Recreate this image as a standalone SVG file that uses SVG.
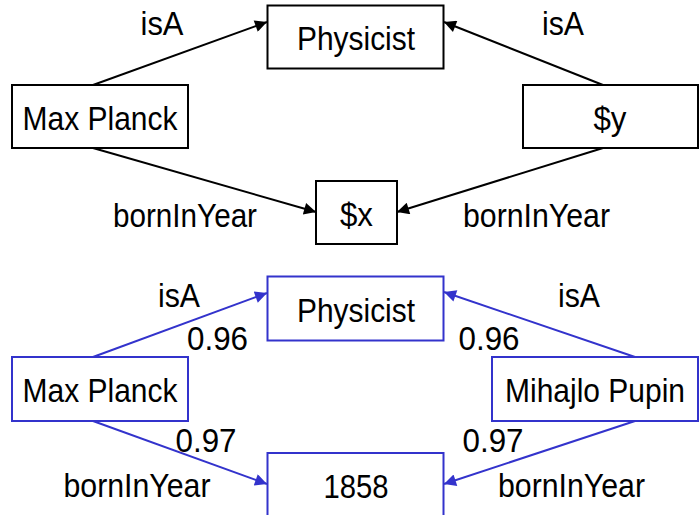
<svg xmlns="http://www.w3.org/2000/svg" width="700" height="515" viewBox="0 0 700 515">
<style>
  text { font-family: "Liberation Sans", Arial, sans-serif; font-size: 34px; fill: #000; text-anchor: middle; }
  .nb { fill: #fff; stroke: #000; stroke-width: 2; }
  .nu { fill: #fff; stroke: #3333cc; stroke-width: 2; }
  .eb { stroke: #000; stroke-width: 2; fill: none; marker-end: url(#ab); }
  .eu { stroke: #3333cc; stroke-width: 2; fill: none; marker-end: url(#au); }
</style>
<defs>
  <marker id="ab" viewBox="0 0 10 10" refX="10" refY="5" markerWidth="16" markerHeight="12" markerUnits="userSpaceOnUse" orient="auto">
    <path d="M0,0 L10,5 L0,10 z" fill="#000"/>
  </marker>
  <marker id="au" viewBox="0 0 10 10" refX="10" refY="5" markerWidth="16" markerHeight="12" markerUnits="userSpaceOnUse" orient="auto">
    <path d="M0,0 L10,5 L0,10 z" fill="#3333cc"/>
  </marker>
</defs>
<rect width="700" height="515" fill="#fff"/>

<g id="connectors">
  <line class="eb" x1="93" y1="85" x2="267" y2="22"/>
  <line class="eb" x1="603" y1="85" x2="444" y2="22"/>
  <line class="eb" x1="93" y1="148" x2="316" y2="212"/>
  <line class="eb" x1="603" y1="148" x2="397" y2="212"/>
  <line class="eu" x1="93" y1="357" x2="267" y2="293"/>
  <line class="eu" x1="635" y1="357" x2="444" y2="292"/>
  <line class="eu" x1="93" y1="421" x2="267" y2="484"/>
  <line class="eu" x1="635" y1="421" x2="444" y2="484"/>
</g>

<g id="edge-labels">
  <text x="162" y="35" textLength="43" lengthAdjust="spacingAndGlyphs">isA</text>
  <text x="563" y="35" textLength="42" lengthAdjust="spacingAndGlyphs">isA</text>
  <text x="185" y="227" textLength="144" lengthAdjust="spacingAndGlyphs">bornInYear</text>
  <text x="536.5" y="227" textLength="147" lengthAdjust="spacingAndGlyphs">bornInYear</text>
  <text x="179" y="307" textLength="42" lengthAdjust="spacingAndGlyphs">isA</text>
  <text x="579" y="307" textLength="42" lengthAdjust="spacingAndGlyphs">isA</text>
  <text x="217.5" y="350" textLength="61" lengthAdjust="spacingAndGlyphs">0.96</text>
  <text x="489" y="350" textLength="61" lengthAdjust="spacingAndGlyphs">0.96</text>
  <text x="206" y="452" textLength="61" lengthAdjust="spacingAndGlyphs">0.97</text>
  <text x="493" y="452" textLength="61" lengthAdjust="spacingAndGlyphs">0.97</text>
  <text x="137" y="497" textLength="147" lengthAdjust="spacingAndGlyphs">bornInYear</text>
  <text x="571.5" y="497" textLength="147" lengthAdjust="spacingAndGlyphs">bornInYear</text>
</g>

<g id="q-physicist">
  <rect class="nb" x="267.5" y="5.5" width="176" height="63"/>
  <text x="356" y="50" textLength="118" lengthAdjust="spacingAndGlyphs">Physicist</text>
</g>
<g id="q-maxplanck">
  <rect class="nb" x="12" y="85" width="176" height="63"/>
  <text x="100" y="130" textLength="155" lengthAdjust="spacingAndGlyphs">Max Planck</text>
</g>
<g id="q-y">
  <rect class="nb" x="523" y="85" width="175" height="63"/>
  <text x="610" y="130" textLength="33" lengthAdjust="spacingAndGlyphs">$y</text>
</g>
<g id="q-x">
  <rect class="nb" x="316" y="181" width="81" height="63"/>
  <text x="356.5" y="226" textLength="33" lengthAdjust="spacingAndGlyphs">$x</text>
</g>

<g id="a-physicist">
  <rect class="nu" x="267.5" y="276.5" width="176" height="64"/>
  <text x="356" y="322" textLength="118" lengthAdjust="spacingAndGlyphs">Physicist</text>
</g>
<g id="a-maxplanck">
  <rect class="nu" x="12" y="357" width="176" height="64"/>
  <text x="100" y="402" textLength="155" lengthAdjust="spacingAndGlyphs">Max Planck</text>
</g>
<g id="a-pupin">
  <rect class="nu" x="492" y="357" width="206" height="64"/>
  <text x="595" y="402" textLength="180" lengthAdjust="spacingAndGlyphs">Mihajlo Pupin</text>
</g>
<g id="a-1858">
  <rect class="nu" x="267.5" y="453" width="176" height="70"/>
  <text x="356" y="498" textLength="65" lengthAdjust="spacingAndGlyphs">1858</text>
</g>
</svg>
